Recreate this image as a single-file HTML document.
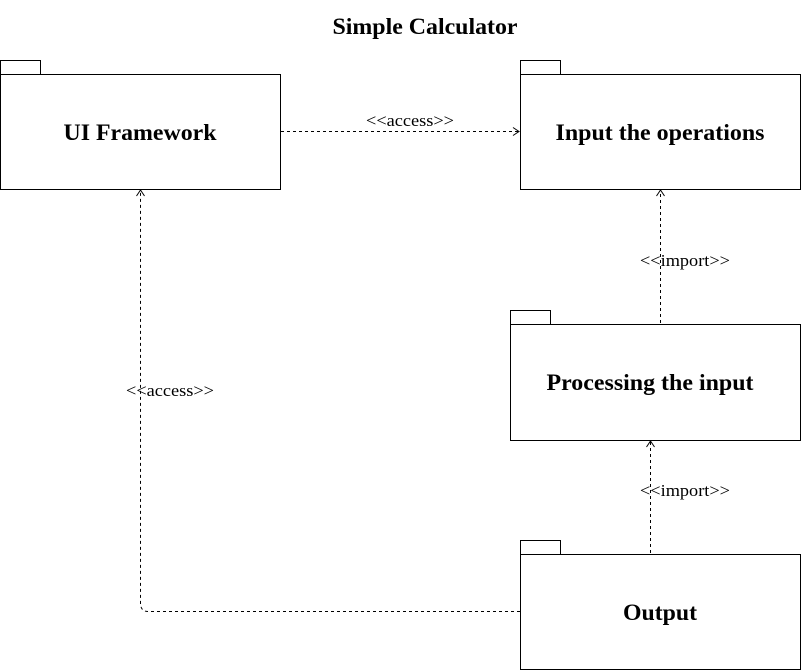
<!DOCTYPE html>
<html><head><style>
html,body{margin:0;padding:0;background:#fff;}
svg{display:block;}
text{font-family:"Liberation Serif",serif;}
</style></head><body>
<svg width="802" height="672" xmlns="http://www.w3.org/2000/svg">
<text x="425" y="34" text-anchor="middle" font-size="23" font-weight="bold" textLength="185" lengthAdjust="spacingAndGlyphs">Simple Calculator</text>
<g fill="#fff" stroke="#000" stroke-width="1">
<rect x="0.5" y="60.5" width="40" height="14"/>
<rect x="0.5" y="74.5" width="280" height="115"/>
<rect x="520.5" y="60.5" width="40" height="14"/>
<rect x="520.5" y="74.5" width="280" height="115"/>
<rect x="510.5" y="310.5" width="40" height="14"/>
<rect x="510.5" y="324.5" width="290" height="116"/>
<rect x="520.5" y="540.5" width="40" height="14"/>
<rect x="520.5" y="554.5" width="280" height="115"/>
</g>
<g font-size="23" font-weight="bold" text-anchor="middle">
<text x="140" y="140" textLength="153" lengthAdjust="spacingAndGlyphs">UI Framework</text>
<text x="660" y="140" textLength="209" lengthAdjust="spacingAndGlyphs">Input the operations</text>
<text x="650" y="390" textLength="207" lengthAdjust="spacingAndGlyphs">Processing the input</text>
<text x="660" y="620" textLength="74" lengthAdjust="spacingAndGlyphs">Output</text>
</g>
<g fill="none" stroke="#000" stroke-width="1" stroke-dasharray="3,3">
<path d="M281 131.5H519"/>
<path d="M660.5 323V190"/>
<path d="M650.5 553V441"/>
<path d="M520 611.5H148Q140.5 611.5 140.5 603V190"/>
</g>
<g fill="none" stroke="#000" stroke-width="1">
<path d="M513 127.5L519 131.5L513 135.5"/>
<path d="M656.5 196L660.5 190L664.5 196"/>
<path d="M646.5 447L650.5 441L654.5 447"/>
<path d="M136.5 196L140.5 190L144.5 196"/>
</g>
<g font-size="17" text-anchor="middle">
<text x="410" y="126" textLength="88" lengthAdjust="spacingAndGlyphs">&lt;&lt;access&gt;&gt;</text>
<text x="685" y="266" textLength="90" lengthAdjust="spacingAndGlyphs">&lt;&lt;import&gt;&gt;</text>
<text x="685" y="496" textLength="90" lengthAdjust="spacingAndGlyphs">&lt;&lt;import&gt;&gt;</text>
<text x="170" y="396" textLength="88" lengthAdjust="spacingAndGlyphs">&lt;&lt;access&gt;&gt;</text>
</g>
</svg>
</body></html>
